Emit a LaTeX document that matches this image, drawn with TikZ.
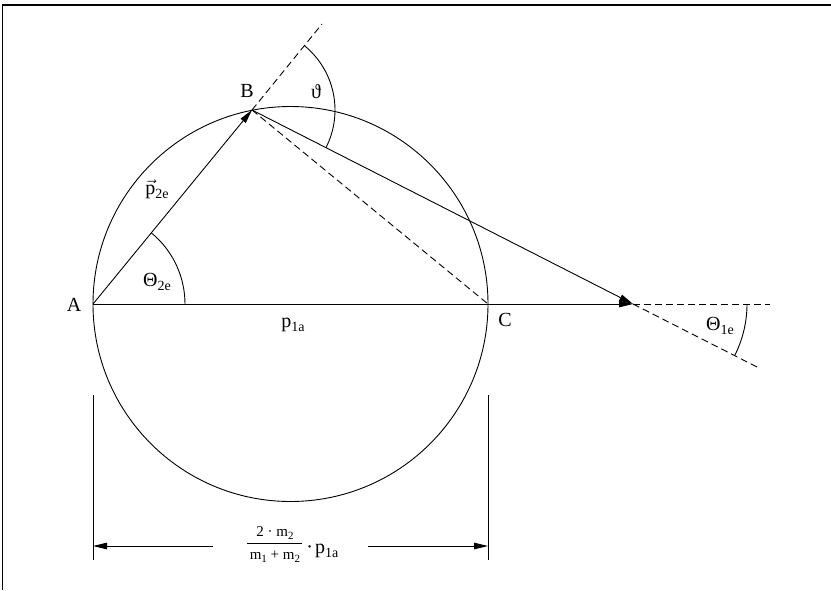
\documentclass[tikz,border=0pt]{standalone}
\usepackage{fontspec}
\setmainfont{Liberation Serif}
\usetikzlibrary{arrows.meta}
\newcommand\sbs[1]{\raisebox{-4pt}{\fontsize{14}{14}\selectfont #1}}
\newcommand\sbsm[1]{\raisebox{-3pt}{\fontsize{11}{11}\selectfont #1}}
\newcommand\fracrow[1]{\hbox to 55pt{\hss\fontsize{15}{15}\selectfont #1\hss}}
\begin{document}
\begin{tikzpicture}[x=1pt,y=-1pt,
  line width=0.9pt,
  lbl/.style={font=\fontsize{20}{24}\selectfont, inner sep=0pt},
  dsh/.style={dash pattern=on 7pt off 4pt},
  arr/.style={-{Triangle[length=14pt,width=6.5pt]}}]
\useasboundingbox (0,0) rectangle (831,590);
% frame
\draw[line width=1.2pt] (2.5,590) -- (2.5,5) -- (831,5);
% points
\coordinate (A) at (93,304);
\coordinate (B) at (252,110);
\coordinate (C) at (488,304);
\coordinate (D) at (633,304);
\coordinate (O) at (290.5,304);
\coordinate (E1) at (322,24);
\coordinate (E2) at (770,304);
\coordinate (E3) at (759,368);
% circle
\draw (O) circle[radius=197.5];
% vectors
\draw[arr] (A) -- (B);
\draw[arr] (A) -- (D);
\draw[arr] (B) -- (D);
% dashed
\draw[dsh] (B) -- (E1);
\draw[dsh] (B) -- (C);
\draw[dsh] (D) -- (E2);
\draw[dsh] (D) -- (E3);
% angle arcs
\draw (A) ++(0:92) arc[start angle=0, end angle=-50.66, radius=92];
\draw (B) ++(-50.66:83) arc[start angle=-50.66, end angle=26.99, radius=83];
\draw (D) ++(0:114) arc[start angle=0, end angle=26.99, radius=114];
% labels
\node[lbl] (LA) at (74,305) {A};
\node[lbl] (LB) at (247,91) {B};
\node[lbl] (LC) at (505,320) {C};
\node[lbl] (Lth) at (316,92) {ϑ};
\node[lbl] (Lp2) at (157,189) {\ensuremath{\vec{\mbox{p}}}\sbs{2e}};
\node[lbl] (LT2) at (157,282) {Θ\sbs{2e}};
\node[lbl] (LT1) at (720,326) {Θ\sbs{1e}};
\node[lbl] (Lp1) at (293,325) {p\sbs{1a}};
% dimension
\coordinate (V1t) at (93,395);
\coordinate (V1b) at (93,560);
\coordinate (V2t) at (488,395);
\coordinate (V2b) at (488,560);
\draw (V1t) -- (V1b);
\draw (V2t) -- (V2b);
\node[lbl, anchor=base west] (F) at (247,553)
  {\raisebox{-6pt}{\vbox{\fracrow{2 · m\sbsm{2}}\kern3.6pt\hrule height 0.8pt\kern6.5pt\fracrow{m\sbsm{1} + m\sbsm{2}}}}\kern4pt·\kern2pt p\sbs{1a}};
\coordinate (DL) at (93,546);
\coordinate (DR) at (488,546);
\coordinate (dl) at (213,546);
\coordinate (dr) at (368,546);
\draw[arr] (dl) -- (DL);
\draw[arr] (dr) -- (DR);
\end{tikzpicture}
\end{document}
